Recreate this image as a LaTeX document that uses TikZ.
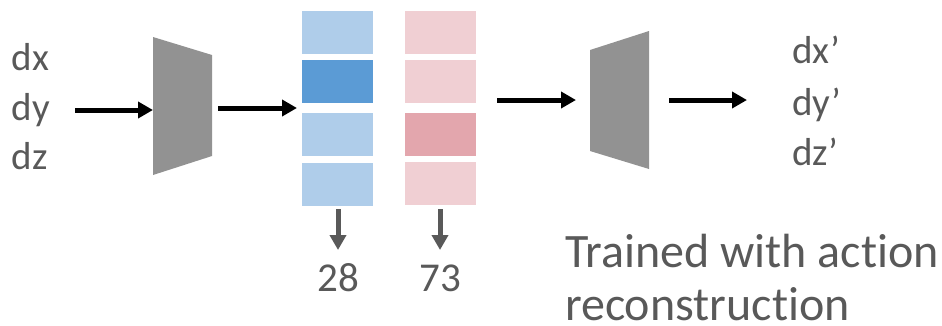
\documentclass[tikz,border=0pt]{standalone}
\usepackage{fontspec}
\setmainfont{Carlito}[Ligatures={NoCommon}]
\usetikzlibrary{arrows.meta}
\definecolor{txtgray}{HTML}{595959}
\definecolor{netgray}{HTML}{929292}
\definecolor{bluelight}{HTML}{AFCDEA}
\definecolor{bluedark}{HTML}{5B9BD5}
\definecolor{pinklight}{HTML}{F0CFD3}
\definecolor{pinkdark}{HTML}{E3A6AD}
\tikzset{
  lbl/.style={inner sep=0pt, outer sep=0pt, text=txtgray, anchor=base west, font=\fontsize{39}{44}\selectfont},
  big/.style={inner sep=0pt, outer sep=0pt, text=txtgray, anchor=base west, font=\fontsize{48}{56}\selectfont},
  num/.style={inner sep=0pt, outer sep=0pt, text=txtgray, anchor=base, font=\fontsize{41}{46}\selectfont},
  flow/.style={line width=5pt, -{Triangle[length=15pt,width=16pt]}, black},
  readout/.style={line width=5pt, -{Triangle[length=15pt,width=16pt]}, txtgray},
  cell/.style={draw=none, inner sep=0pt, outer sep=0pt, minimum width=71pt, minimum height=43pt},
  net/.style={fill=netgray, draw=none}
}
\begin{document}
\begin{tikzpicture}[x=1pt,y=-1pt]
\useasboundingbox (0,0) rectangle (942,325);

% input actions
\node[lbl] (dx) at (12,70) {dx};
\node[lbl] (dy) at (12,120) {dy};
\node[lbl] (dz) at (12,169) {dz};

% encoder
\fill[net] (153,37) -- (212,55) -- (212,156) -- (153,175) -- cycle;
\coordinate (inS) at (75,110);
\coordinate (encL) at (153,110);
\coordinate (encR) at (218,108);

% codebook columns
\node[cell, fill=bluelight, anchor=north west] (b1) at (302,11) {};
\node[cell, fill=bluedark,  anchor=north west] (b2) at (302,60) {};
\node[cell, fill=bluelight, anchor=north west] (b3) at (302,113) {};
\node[cell, fill=bluelight, anchor=north west] (b4) at (302,163) {};
\node[cell, fill=pinklight, anchor=north west] (p1) at (405,11) {};
\node[cell, fill=pinklight, anchor=north west] (p2) at (405,60) {};
\node[cell, fill=pinkdark,  anchor=north west] (p3) at (405,113) {};
\node[cell, fill=pinklight, anchor=north west] (p4) at (405,162) {};
\coordinate (cbIn) at (297,108);

% decoder
\fill[net] (590,50) -- (649,31) -- (649,169) -- (590,151) -- cycle;
\coordinate (cbOut) at (497,100);
\coordinate (decL) at (576,100);
\coordinate (decR) at (669,100);
\coordinate (outE) at (747,100);

% output actions
\node[lbl] (ox) at (792,63) {dx’};
\node[lbl] (oy) at (792,115) {dy’};
\node[lbl] (oz) at (792,165) {dz’};

% token indices
\node[num] (n1) at (338,291) {28};
\node[num] (n2) at (440,291) {73};
\coordinate (r1S) at (338,209);
\coordinate (r1E) at (338,250);
\coordinate (r2S) at (440,209);
\coordinate (r2E) at (440,250);

\node[big] (t1) at (565,267) {Trained with action};
\node[big] (t2) at (565,320) {reconstruction};

% connectors
\draw[flow] (inS) -- (encL);
\draw[flow] (encR) -- (cbIn);
\draw[flow] (cbOut) -- (decL);
\draw[flow] (decR) -- (outE);
\draw[readout] (r1S) -- (r1E);
\draw[readout] (r2S) -- (r2E);
\end{tikzpicture}
\end{document}
